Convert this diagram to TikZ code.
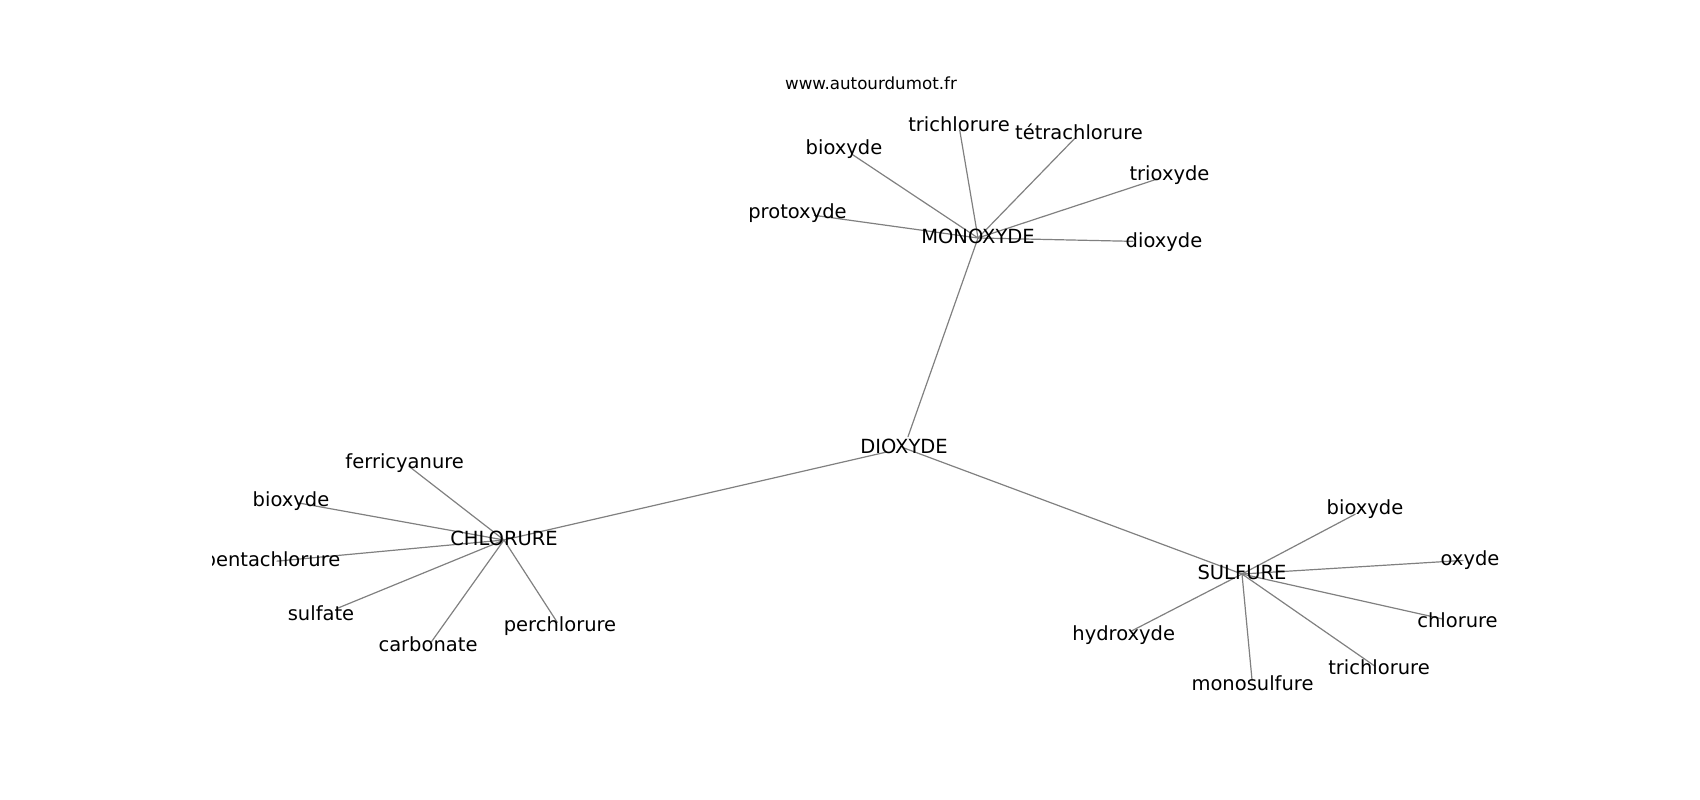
\documentclass[tikz,border=0pt]{standalone}
\usepackage{fontspec}
\setmainfont{DejaVu Sans}
\usepackage{xcolor}
\usepackage{tikz}
\usetikzlibrary{backgrounds}
\definecolor{ink}{HTML}{000000}
\definecolor{wire}{HTML}{808080}
\tikzset{
  edge/.style={draw=wire, line width=1.2pt, line cap=round},
  word/.style={text=ink, inner sep=0pt, font=\fontsize{19.5}{23}\selectfont, text height=14.7pt, text depth=4.6pt},
  site/.style={text=ink, inner sep=0pt, font=\fontsize{16.7}{20}\selectfont},
}

\begin{document}
\begin{tikzpicture}[x=1pt,y=-1pt]
  \useasboundingbox (0,0) rectangle (1700,800);
  \node[site,anchor=base] (site) at (871,89) {www.autourdumot.fr};

  \begin{scope}
    \clip (212.5,96) rectangle (1530,712);
    % hubs
    \node[word] (diox) at (904,448) {DIOXYDE};
    \node[word] (mono) at (978,238) {MONOXYDE};
    \node[word] (chlo) at (504,540) {CHLORURE};
    \node[word] (sulf) at (1242,574) {SULFURE};

    \node[word] (m-trichlorure) at (959,126) {trichlorure};
    \node[word] (m-tetrachlorure) at (1079,134) {tétrachlorure};
    \node[word] (m-bioxyde) at (844,149) {bioxyde};
    \node[word] (m-protoxyde) at (797.5,213) {protoxyde};
    \node[word] (m-trioxyde) at (1169.5,175) {trioxyde};
    \node[word] (m-dioxyde) at (1164,242) {dioxyde};

    \node[word] (c-ferricyanure) at (404.7,463) {ferricyanure};
    \node[word] (c-bioxyde) at (291,501.6) {bioxyde};
    \node[word] (c-pentachlorure) at (272,561.6) {pentachlorure};
    \node[word] (c-sulfate) at (321,615) {sulfate};
    \node[word] (c-carbonate) at (428,646.6) {carbonate};
    \node[word] (c-perchlorure) at (560,626.6) {perchlorure};

    \node[word] (s-bioxyde) at (1365,509) {bioxyde};
    \node[word] (s-oxyde) at (1470,560) {oxyde};
    \node[word] (s-chlorure) at (1457.5,622.3) {chlorure};
    \node[word] (s-trichlorure) at (1379,669) {trichlorure};
    \node[word] (s-monosulfure) at (1252.5,685) {monosulfure};
    \node[word] (s-hydroxyde) at (1123.7,635) {hydroxyde};
  \end{scope}

  \begin{scope}[on background layer]
    \clip (212.5,96) rectangle (1530,712);
    \draw[edge, shorten <=12pt] (diox.center) -- (mono.center);
    \draw[edge, shorten <=18pt] (diox.center) -- (chlo.center);
    \draw[edge] (diox.center) -- (sulf.center);

    \draw[edge, shorten >=4pt] (mono.center) -- (m-trichlorure.center);
    \draw[edge, shorten >=6pt] (mono.center) -- (m-tetrachlorure.center);
    \draw[edge, shorten >=9pt] (mono.center) -- (m-bioxyde.center);
    \draw[edge, shorten >=17pt] (mono.center) -- (m-protoxyde.center);
    \draw[edge, shorten >=13pt] (mono.center) -- (m-trioxyde.center);
    \draw[edge, shorten >=31pt] (mono.center) -- (m-dioxyde.center);

    \draw[edge, shorten >=5pt] (chlo.center) -- (c-ferricyanure.center);
    \draw[edge, shorten >=7pt] (chlo.center) -- (c-bioxyde.center);
    \draw[edge, shorten >=5pt] (chlo.center) -- (c-pentachlorure.center);
    \draw[edge, shorten >=18pt] (chlo.center) -- (c-sulfate.center);
    \draw[edge, shorten >=6pt] (chlo.center) -- (c-carbonate.center);
    \draw[edge, shorten >=5pt] (chlo.center) -- (c-perchlorure.center);

    \draw[edge, shorten >=11pt] (sulf.center) -- (s-bioxyde.center);
    \draw[edge, shorten >=7pt] (sulf.center) -- (s-oxyde.center);
    \draw[edge, shorten >=15pt] (sulf.center) -- (s-chlorure.center);
    \draw[edge, shorten >=5pt] (sulf.center) -- (s-trichlorure.center);
    \draw[edge, shorten >=5pt] (sulf.center) -- (s-monosulfure.center);
    \draw[edge, shorten >=9pt] (sulf.center) -- (s-hydroxyde.center);
  \end{scope}
\end{tikzpicture}
\end{document}
